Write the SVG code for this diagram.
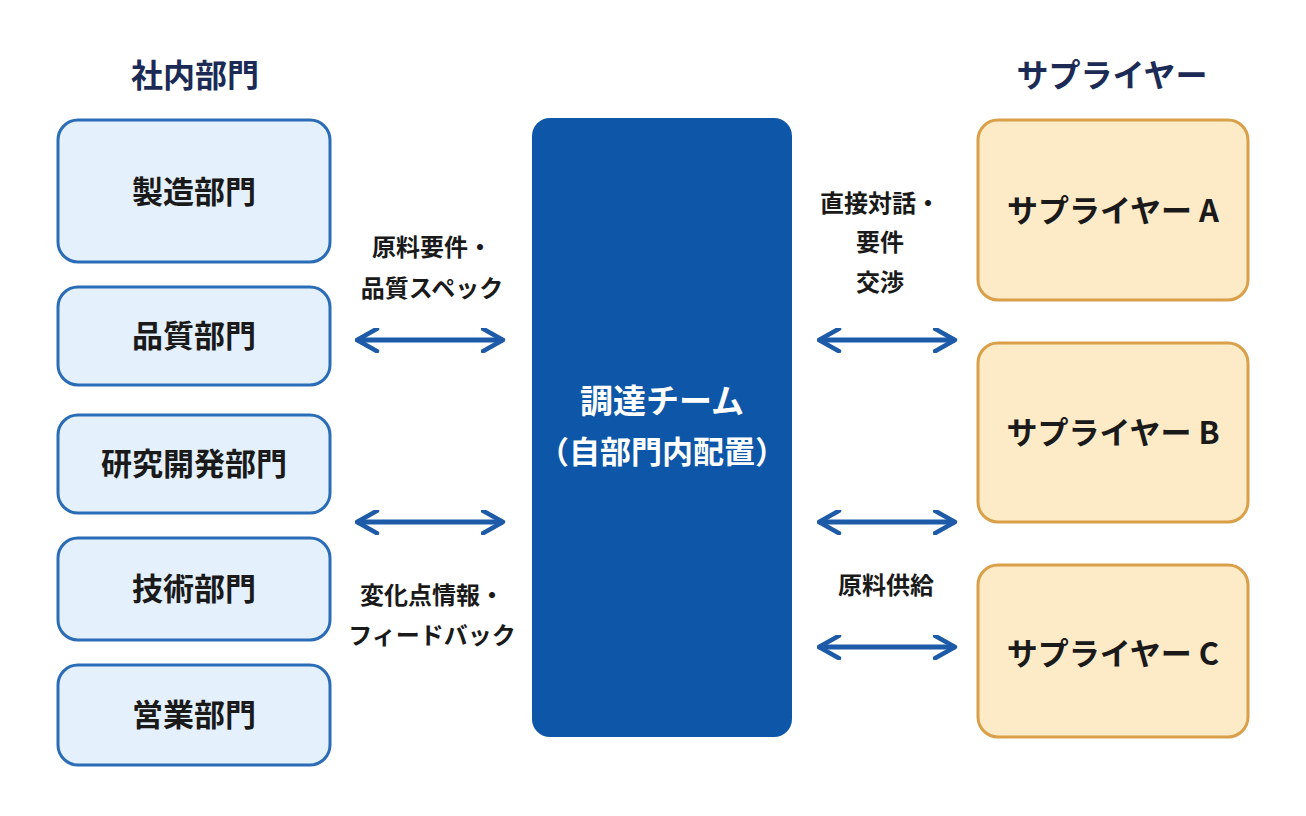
<svg xmlns="http://www.w3.org/2000/svg" width="1306" height="816" viewBox="0 0 1306 816">
<style>
text{font-family:"Noto Sans CJK JP","Noto Sans",sans-serif;font-weight:bold;text-anchor:middle}
.t{font-size:32px;fill:#1b2b55}
.l rect{fill:#e4f0fb;stroke:#2b6cb6;stroke-width:3}
.l text{font-size:31px;fill:#1a1a1a}
.r rect{fill:#fdebc8;stroke:#d9a049;stroke-width:3}
.r text{font-size:31px;fill:#1a1a1a}
.lab{font-size:24px;fill:#1a1a1a}
.a{stroke:#1d5aa8;stroke-width:5;fill:none;marker-start:url(#h);marker-end:url(#h)}
</style>
<defs>
<marker id="h" viewBox="0 0 10 10" refX="9" refY="5" markerWidth="5" markerHeight="5" orient="auto-start-reverse" markerUnits="strokeWidth">
<path d="M1,0.5 L9,5 L1,9.5" fill="none" stroke="#1d5aa8" stroke-width="1.8" stroke-linejoin="round" stroke-linecap="round"/>
</marker>
</defs>
<rect width="1306" height="816" fill="#fff"/>
<text class="t" x="195" y="87">社内部門</text>
<text class="t" x="1112" y="87">サプライヤー</text>
<g id="n1" class="l"><rect x="58" y="120" width="272" height="142" rx="20"/><text x="194" y="203">製造部門</text></g>
<g id="n2" class="l"><rect x="58" y="287" width="272" height="98" rx="20"/><text x="194" y="347">品質部門</text></g>
<g id="n3" class="l"><rect x="58" y="415" width="272" height="98" rx="20"/><text x="194" y="475">研究開発部門</text></g>
<g id="n4" class="l"><rect x="58" y="538" width="272" height="102" rx="20"/><text x="194" y="600">技術部門</text></g>
<g id="n5" class="l"><rect x="58" y="665" width="272" height="100" rx="20"/><text x="194" y="726">営業部門</text></g>
<g id="center"><rect x="532" y="118" width="260" height="619" rx="18" fill="#0e56a7"/>
<text x="662" y="413" font-size="33" fill="#fff">調達チーム</text>
<text x="662" y="463" font-size="31" fill="#fff">（自部門内配置）</text></g>
<g id="sA" class="r"><rect x="978" y="120" width="270" height="180" rx="20"/><text x="1113" y="222">サプライヤー A</text></g>
<g id="sB" class="r"><rect x="978" y="343" width="270" height="179" rx="20"/><text x="1113" y="444">サプライヤー B</text></g>
<g id="sC" class="r"><rect x="978" y="565" width="270" height="172" rx="20"/><text x="1113" y="665">サプライヤー C</text></g>
<g id="connectors">
<line class="a" x1="357" y1="340" x2="503" y2="340"/>
<line class="a" x1="357" y1="522" x2="503" y2="522"/>
<line class="a" x1="819" y1="340" x2="955" y2="340"/>
<line class="a" x1="819" y1="522" x2="955" y2="522"/>
<line class="a" x1="819" y1="647" x2="955" y2="647"/>
<text class="lab" x="432" y="256">原料要件・</text>
<text class="lab" x="432" y="297">品質スペック</text>
<text class="lab" x="432" y="604">変化点情報・</text>
<text class="lab" x="432" y="644">フィードバック</text>
<text class="lab" x="880" y="212">直接対話・</text>
<text class="lab" x="880" y="251">要件</text>
<text class="lab" x="880" y="291">交渉</text>
<text class="lab" x="886" y="594">原料供給</text>
</g>
</svg>
